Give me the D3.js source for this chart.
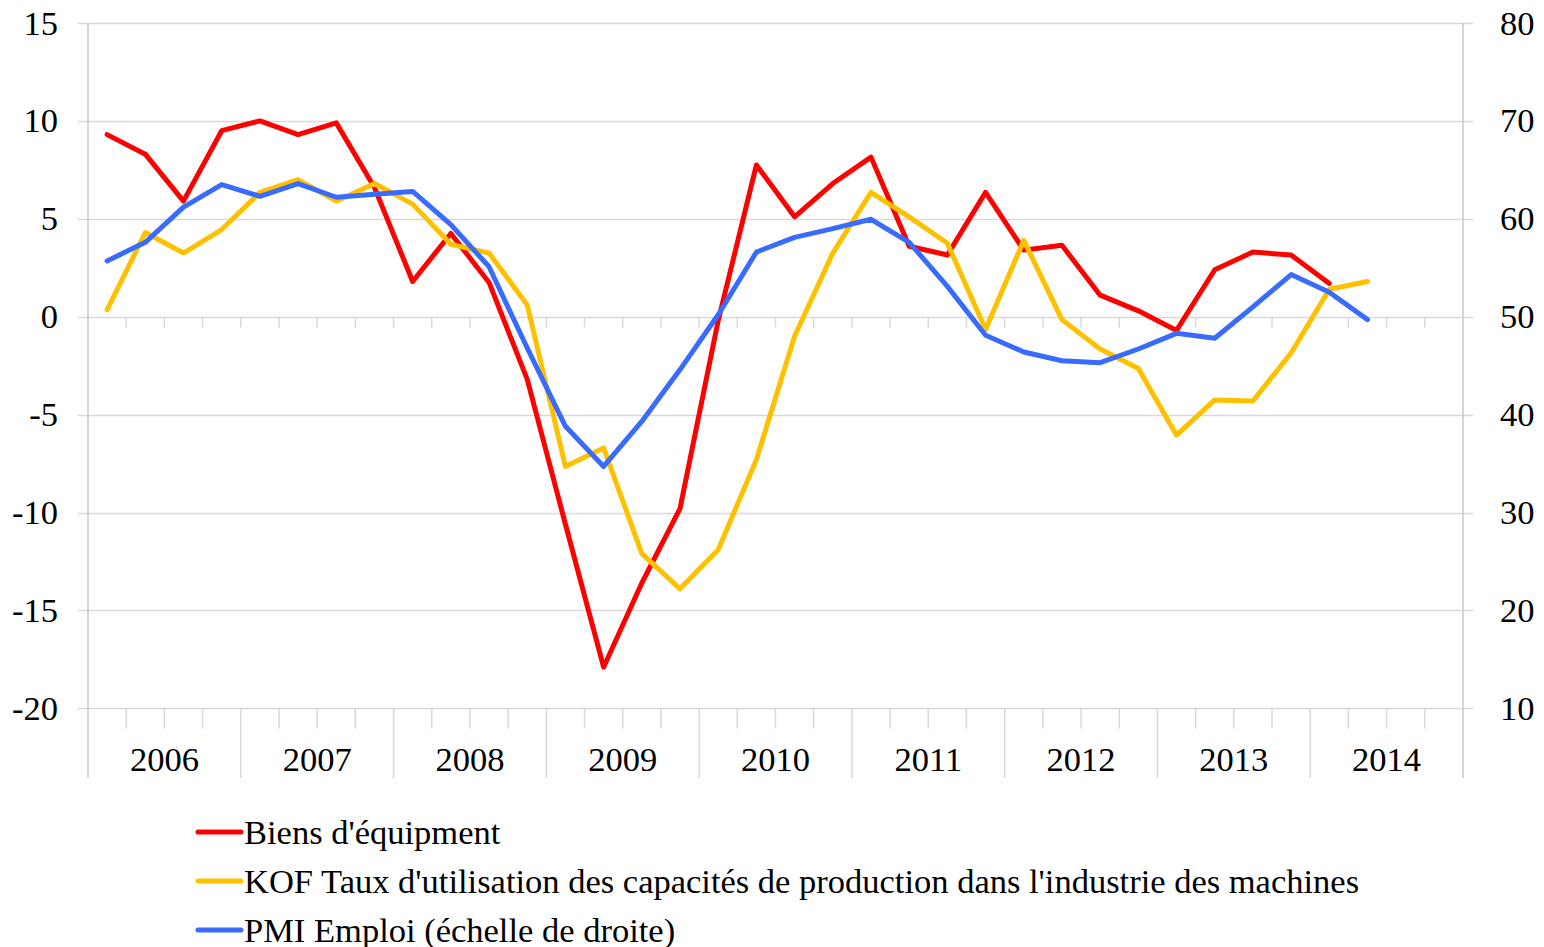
<!DOCTYPE html>
<html>
<head>
<meta charset="utf-8">
<script src="https://cdn.jsdelivr.net/npm/d3@7"></script>
<style>
  body { margin: 0; background: #fff; }
  svg text { font-family: "Liberation Serif", "Times New Roman", serif; fill: #000; }
</style>
</head>
<body>
<svg id="chart" width="1544" height="947"></svg>
<script>
// Quarters 2006 Q1 .. 2014 Q4
const years = ["2006", "2007", "2008", "2009", "2010", "2011", "2012", "2013", "2014"];
const quarters = years.flatMap(y => ["T1", "T2", "T3", "T4"].map(q => y + q));

// Biens d'équipment (left axis)
const biens = [9.3, 8.3, 5.9, 9.5, 10.0, 9.3, 9.9, 6.6, 1.8, 4.25,
  1.75, -3.2, -10.6, -17.9, -13.6, -9.8, -0.2, 7.75, 5.1, 6.8,
  8.15, 3.6, 3.15, 6.35, 3.4, 3.65, 1.1, 0.3, -0.7, 2.4,
  3.3, 3.15, 1.7];

// KOF taux d'utilisation des capacités (left axis)
const kof = [0.35, 4.3, 3.25, 4.45, 6.35, 7.0, 5.9, 6.8, 5.75, 3.7,
  3.25, 0.6, -7.65, -6.7, -12.1, -13.9, -11.9, -7.3, -1.0, 3.25,
  6.35, 5.1, 3.75, -0.65, 3.9, -0.15, -1.65, -2.65, -6.05, -4.25,
  -4.3, -1.85, 1.4, 1.8];

// PMI Emploi (right axis)
const pmi = [55.7, 57.6, 61.2, 63.5, 62.3, 63.6, 62.2, 62.5, 62.8, 59.4,
  55.1, 46.8, 38.8, 34.7, 39.3, 44.6, 50.2, 56.6, 58.1, 59.0,
  59.95, 57.6, 53.1, 48.1, 46.4, 45.5, 45.3, 46.7, 48.3, 47.8,
  51.0, 54.3, 52.5, 49.7];

const seriesInfo = [
  { name: "Biens d'équipment", values: biens, color: "#ff0000", axis: "left" },
  { name: "KOF Taux d'utilisation des capacités de production dans l'industrie des machines", values: kof, color: "#ffc000", axis: "left" },
  { name: "PMI Emploi (échelle de droite)", values: pmi, color: "#3a6bff", axis: "right" }
];

const leftTicks = [-20, -15, -10, -5, 0, 5, 10, 15];
const rightTicks = [10, 20, 30, 40, 50, 60, 70, 80];

const plot = { left: 88, right: 1463, top: 23, bottom: 708.3 };
const gridColor = "#d9d9d9";
const axisColor = "#c8c8c8";
const fontSize = 34.5;

const svg = d3.select("#chart");

const x = d3.scaleBand().domain(quarters).range([plot.left, plot.right]);
const yL = d3.scaleLinear().domain([-20, 15]).range([plot.bottom, plot.top]);
const yR = d3.scaleLinear().domain([10, 80]).range([plot.bottom, plot.top]);

// gridlines (with small outward ticks on both sides)
svg.append("g").selectAll("line")
  .data(leftTicks)
  .join("line")
  .attr("x1", plot.left - 10)
  .attr("x2", plot.right + 10)
  .attr("y1", d => Math.round(yL(d)) + 0.5)
  .attr("y2", d => Math.round(yL(d)) + 0.5)
  .attr("stroke", gridColor)
  .attr("stroke-width", 1.5);

// vertical axis lines
[plot.left, plot.right].forEach(px => {
  svg.append("line")
    .attr("x1", px).attr("x2", px)
    .attr("y1", plot.top).attr("y2", 778)
    .attr("stroke", axisColor)
    .attr("stroke-width", 1.5);
});

// quarter ticks along the zero line
const y0 = Math.round(yL(0)) + 0.5;
svg.append("g").selectAll("line")
  .data(quarters.slice(1))
  .join("line")
  .attr("x1", d => x(d)).attr("x2", d => x(d))
  .attr("y1", y0).attr("y2", y0 + 10)
  .attr("stroke", gridColor)
  .attr("stroke-width", 1.5);

// bottom category ticks: quarters short, years long
const yB = Math.round(yL(-20)) + 0.5;
svg.append("g").selectAll("line")
  .data(quarters.slice(1))
  .join("line")
  .attr("x1", d => x(d)).attr("x2", d => x(d))
  .attr("y1", yB)
  .attr("y2", (d, i) => ((i + 1) % 4 === 0 ? 778 : yB + 20))
  .attr("stroke", gridColor)
  .attr("stroke-width", 1.5);

// year labels
svg.append("g").selectAll("text")
  .data(years)
  .join("text")
  .attr("x", d => x(d + "T1") + x.bandwidth() * 2)
  .attr("y", 771)
  .attr("text-anchor", "middle")
  .style("font-size", fontSize + "px")
  .text(d => d);

// left axis labels
svg.append("g").selectAll("text")
  .data(leftTicks)
  .join("text")
  .attr("x", 58)
  .attr("y", d => yL(d) + 11.5)
  .attr("text-anchor", "end")
  .style("font-size", fontSize + "px")
  .text(d => d);

// right axis labels
svg.append("g").selectAll("text")
  .data(rightTicks)
  .join("text")
  .attr("x", 1500)
  .attr("y", d => yR(d) + 11.5)
  .attr("text-anchor", "start")
  .style("font-size", fontSize + "px")
  .text(d => d);

// lines
const cx = i => x(quarters[i]) + x.bandwidth() / 2;
seriesInfo.forEach(s => {
  const yScale = s.axis === "left" ? yL : yR;
  const line = d3.line()
    .x((d, i) => cx(i))
    .y(d => yScale(d));
  svg.append("path")
    .datum(s.values)
    .attr("d", line)
    .attr("fill", "none")
    .attr("stroke", s.color)
    .attr("stroke-width", 5)
    .attr("stroke-linejoin", "round")
    .attr("stroke-linecap", "round");
});

// legend
const legend = svg.append("g").selectAll("g")
  .data(seriesInfo)
  .join("g")
  .attr("transform", (d, i) => `translate(0, ${832 + i * 49})`);

legend.append("line")
  .attr("x1", 198).attr("x2", 241)
  .attr("y1", 0).attr("y2", 0)
  .attr("stroke", d => d.color)
  .attr("stroke-width", 5)
  .attr("stroke-linecap", "round");

legend.append("text")
  .attr("x", 244)
  .attr("y", 11.5)
  .style("font-size", fontSize + "px")
  .text(d => d.name);
</script>
</body>
</html>
